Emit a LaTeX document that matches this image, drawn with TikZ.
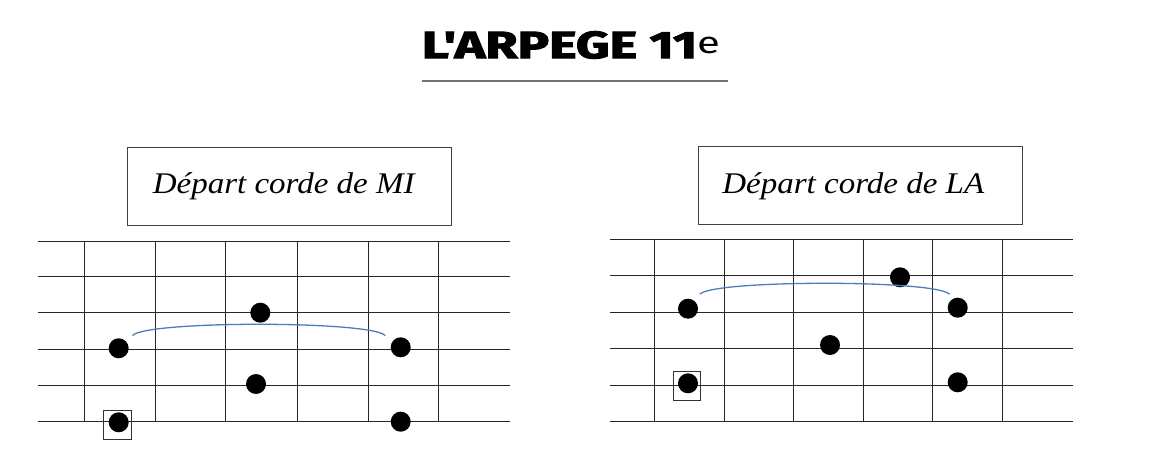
\documentclass[tikz,border=0pt]{standalone}
\usepackage{fontspec}
\setmainfont{Liberation Serif}
\newfontfamily\titlefont{Fira Sans}[BoldFeatures={FakeBold=2.5}]
\definecolor{arcblue}{HTML}{4A7EBB}
\begin{document}
\begin{tikzpicture}[x=1pt,y=-1pt,
  gridline/.style={draw=black!85,line width=0.9pt},
  dot/.style={circle,fill=black,inner sep=0pt,minimum size=20pt},
  rootbox/.style={draw=black!80,line width=0.8pt,inner sep=0pt,minimum width=28pt,minimum height=29pt},
  labelbox/.style={draw=black!75,line width=0.9pt,minimum width=324pt,minimum height=78pt,inner sep=0pt},
  labeltext/.style={inner sep=0pt,anchor=base,font=\fontsize{30}{32}\selectfont\itshape},
  arcline/.style={draw=arcblue,line width=1.3pt,line cap=round}]
\useasboundingbox (0,0) rectangle (1153,470);
\fill[white] (0,0) rectangle (1153,470);

% title
\node[inner sep=0pt] (title) at (571,45) {\resizebox{298pt}{27pt}{\titlefont\bfseries L'ARPEGE 11\raisebox{0.25ex}{\footnotesize\mdseries e}}};
\coordinate (ul1) at (421.7,81);
\coordinate (ul2) at (728,81);
\draw[black!55,line width=1.2pt] (ul1) -- (ul2);

% label boxes
\node[labelbox] (boxMI) at (289.5,186.2) {};
\node[labeltext] (textMI) at (283.7,193.3) {\scalebox{1.1}[1]{Départ corde de MI}};
\node[labelbox] (boxLA) at (860.8,185.9) {};
\node[labeltext] (textLA) at (853.3,193.3) {\scalebox{1.1}[1]{Départ corde de LA}};

% left grid
\foreach \y in {241,276,312.3,349,385.7,421.3}
  \draw[gridline] (38.3,\y) -- (510,\y);
\foreach \x in {84.3,155,225.7,297,368,438.3}
  \draw[gridline] (\x,241) -- (\x,421.3);

% right grid
\foreach \y in {239.5,275.7,312.3,348.3,385.7,421.3}
  \draw[gridline] (610,\y) -- (1073.3,\y);
\foreach \x in {654,724.3,793.7,863,932.7,1002.7}
  \draw[gridline] (\x,239.5) -- (\x,421.3);

% left dots
\node[dot] (l1) at (118.7,348.3) {};
\node[dot] (l2) at (260.3,312.7) {};
\node[dot] (l3) at (256,384) {};
\node[dot] (l4) at (400.7,347.3) {};
\node[dot] (l5) at (400.7,421.7) {};
\node[dot] (l0) at (118.7,422.3) {};
\node[rootbox] (l0box) at (117.7,424.7) {};
\coordinate (la) at (132.7,335.3);
\coordinate (lb) at (385,335.3);
\draw[arcline] (la) .. controls (148,320.6) and (369,320.6) .. (lb);

% right dots
\node[dot] (r1) at (688,308.7) {};
\node[dot] (r2) at (900,277.3) {};
\node[dot] (r3) at (957.7,307.7) {};
\node[dot] (r4) at (830,345) {};
\node[dot] (r5) at (957.7,382.3) {};
\node[dot] (r0) at (688,383.3) {};
\node[rootbox,minimum width=27pt] (r0box) at (687.3,385.8) {};
\coordinate (ra) at (700,294);
\coordinate (rb) at (949.3,294);
\draw[arcline] (ra) .. controls (715,279.7) and (934,279.7) .. (rb);
\end{tikzpicture}
\end{document}
